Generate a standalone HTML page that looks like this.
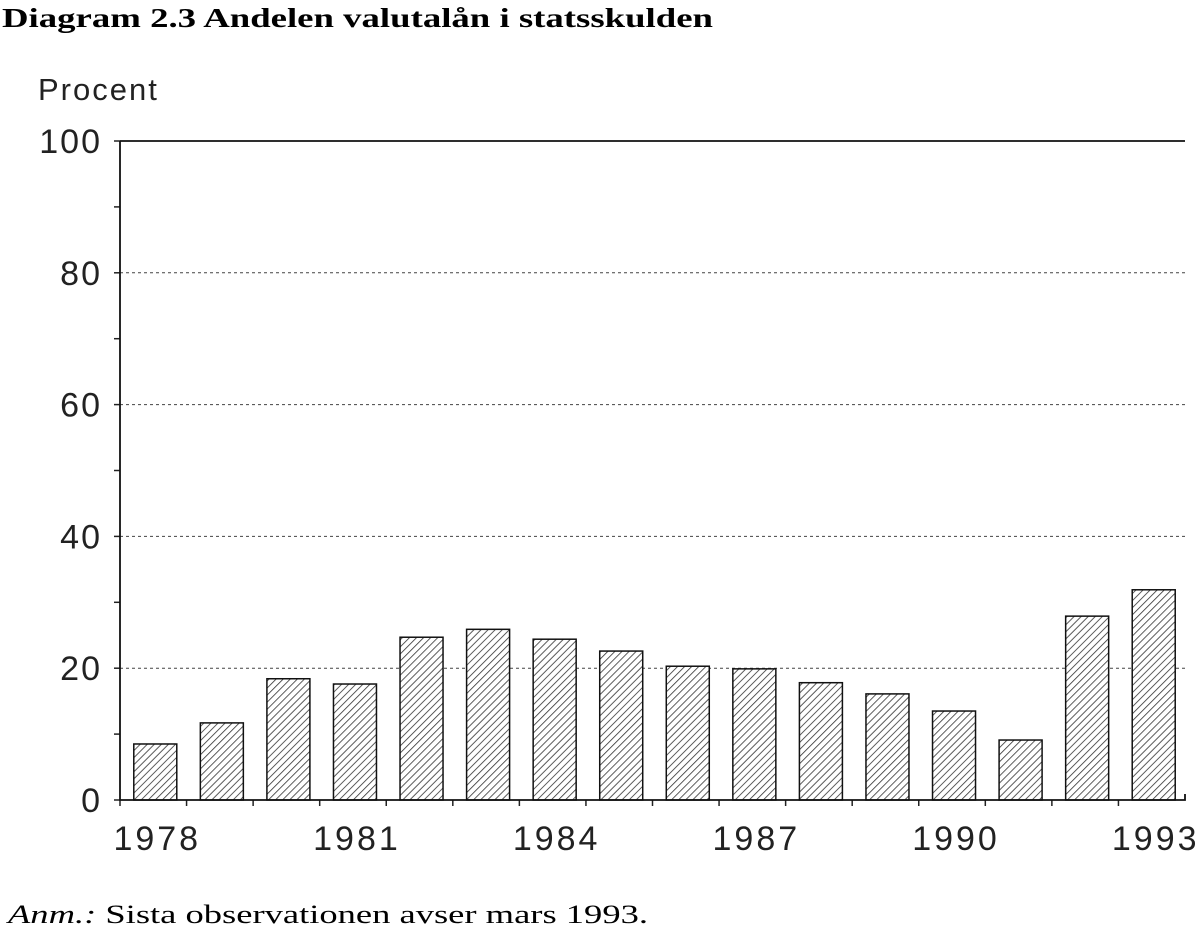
<!DOCTYPE html>
<html><head><meta charset="utf-8"><style>
body{margin:0;background:#fff;width:1195px;height:938px;overflow:hidden}
svg{display:block}
</style></head><body>
<svg id="chart" width="1195" height="938">
<defs>
<pattern id="hatch" patternUnits="userSpaceOnUse" width="5" height="5" patternTransform="rotate(45)">
<rect width="5" height="5" fill="#fff"/>
<line x1="0" y1="0" x2="0" y2="5" stroke="#333" stroke-width="1.6"/>
</pattern>
</defs>
<text x="2" y="27" font-family="Liberation Serif, serif" font-weight="bold" font-size="27" textLength="711" lengthAdjust="spacingAndGlyphs">Diagram 2.3 Andelen valutalån i statsskulden</text>
<text x="38" y="100" font-family="Liberation Sans, sans-serif" font-size="31" letter-spacing="2" fill="#222">Procent</text>
<text x="8" y="923" font-family="Liberation Serif, serif" font-size="26" textLength="640" lengthAdjust="spacingAndGlyphs"><tspan font-style="italic">Anm.:</tspan> Sista observationen avser mars 1993.</text>
<g id="grid"></g><g id="bars"></g><g id="axes"></g>
</svg>
<script>
const years=[1978,1979,1980,1981,1982,1983,1984,1985,1986,1987,1988,1989,1990,1991,1992,1993];
const shares=[8.5,11.7,18.4,17.6,24.7,25.9,24.4,22.6,20.3,19.9,17.8,16.1,13.5,9.1,27.9,31.9];
const yTicks=[0,20,40,60,80,100];
const xLabels=[1978,1981,1984,1987,1990,1993];
const L=120,R=1185,T=141,B=800,NS='http://www.w3.org/2000/svg';
const band=(R-L)/years.length;
const y=v=>B-(v/100)*(B-T);
const x=i=>L+band*i;
function mk(tag,attrs,parent){const e=document.createElementNS(NS,tag);for(const k in attrs)e.setAttribute(k,attrs[k]);document.getElementById(parent).appendChild(e);return e;}
yTicks.forEach(v=>{
 if(v>0&&v<100){const g=mk('line',{x1:L,x2:R,y1:y(v),y2:y(v),stroke:'#444','stroke-width':1,'stroke-dasharray':'3,3'},'grid');
 
 }
 const t=mk('text',{x:L-18,y:y(v)+12,'text-anchor':'end','font-family':'Liberation Sans, sans-serif','font-size':34,fill:'#222','letter-spacing':2},'axes');
 t.textContent=v;
 
 
});
for(let v=0;v<=100;v+=10){const tk=mk('line',{x1:L-6,x2:L,y1:y(v),y2:y(v),stroke:'#222','stroke-width':1.5},'axes');
 
 }
shares.forEach((s,i)=>{
 const w=43,cx=x(i)+band/2+2;
 const b=mk('rect',{x:cx-w/2,y:y(s),width:w,height:B-y(s),fill:'url(#hatch)',stroke:'#111','stroke-width':1.5},'bars');
 
 
 const tk=mk('line',{x1:x(i),x2:x(i),y1:B,y2:B+6,stroke:'#222','stroke-width':1.5},'axes');
 
 
});
xLabels.forEach(yr=>{const i=years.indexOf(yr);
 const t=mk('text',{x:x(i)+band/2+4,y:850,'text-anchor':'middle','font-family':'Liberation Sans, sans-serif','font-size':34,fill:'#222','letter-spacing':3},'axes');
 t.textContent=yr;
 
 });
const ax=mk('path',{d:`M${L},${T}H${R}M${L},${T}V${B}H${R}V${B-6}`,fill:'none',stroke:'#111','stroke-width':1.8},'axes');


</script>
</body></html>
